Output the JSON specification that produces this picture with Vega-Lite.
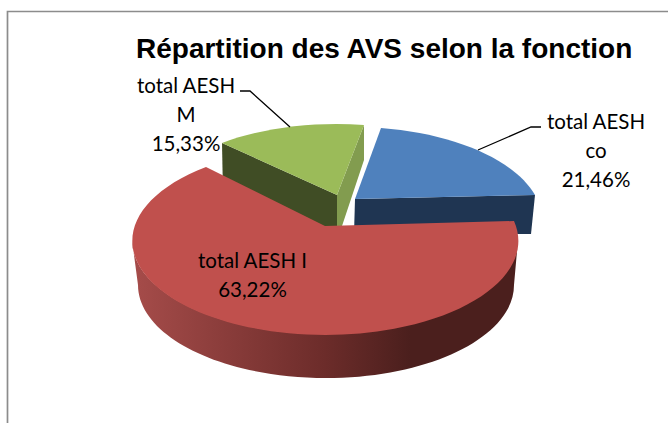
{
"$schema":"https://vega.github.io/schema/vega-lite/v6.json",
"width":668,"height":423,"padding":0,"autosize":{"type":"none"},
"background":"#ffffff",
"config":{"view":{"stroke":null}},
"title":{"text":"Répartition des AVS selon la fonction","font":"Liberation Sans","fontWeight":"bold","fontSize":28,"color":"#000000","anchor":"start","frame":"group","baseline":"alphabetic","offset":0,"dx":136,"dy":86},
"data":{"values":[
{"name":"total AESH co","share":21.46,"label":"total AESH\nco\n21,46%"},
{"name":"total AESH M","share":15.33,"label":"total AESH\nM\n15,33%"},
{"name":"total AESH I","share":63.22,"label":"total AESH I\n63,22%"}
]},
"layer":[
{"data":{"values":[{"part":"frame"}]},"mark":{"type":"point","filled":false,"opacity":1,"size":4,"shape":"M-326.5 212L-326.5 -200L334 -200","stroke":"#8c8c8c","strokeWidth":1.7},"encoding":{}},
{"transform":[{"filter":"datum.name==='total AESH co'"}],"mark":{"type":"point","filled":true,"opacity":1,"size":4,"shape":"M21 -12.5L201 -16.5L197 22.5L20 22.5Z","fill":"#1f3552"},"encoding":{}},
{"transform":[{"filter":"datum.name==='total AESH M'"}],"mark":{"type":"point","filled":true,"opacity":1,"size":4,"shape":"M-112 -68.5L3 -16.5L3 20.5L-111 -16.5Z","fill":"#404d25"},"encoding":{}},
{"transform":[{"filter":"datum.name==='total AESH M'"}],"mark":{"type":"point","filled":true,"opacity":1,"size":4,"shape":"M30 -86.5L3 -16.5L3 20.5L6 20.5L30 -51.5Z","fill":"#829c4f"},"encoding":{}},
{"transform":[{"filter":"datum.name==='total AESH I'"}],"mark":{"type":"point","filled":true,"opacity":1,"size":4,"shape":"M-202 28.5A193 94 0 0 0 184 28.5L180 73.5A188 93 0 0 1 -196 73.5Z","fill":{"gradient":"linear","x1":0,"y1":0,"x2":1,"y2":0,"stops":[{"offset":0,"color":"#a64c4a"},{"offset":0.5,"color":"#6c2c2a"},{"offset":0.72,"color":"#4b1f1d"},{"offset":1,"color":"#4b1f1d"}]}},"encoding":{}},
{"mark":{"type":"point","filled":true,"opacity":1,"size":4},"encoding":{
"shape":{"field":"name","type":"nominal","legend":null,"scale":{"domain":["total AESH co","total AESH M","total AESH I"],"range":["M21 -12.5L47 -83.5A190 94 0 0 1 201 -16.5Z","M3 -16.5L-112 -68.5A190 94 0 0 1 30 -86.5Z","M-9 14.5L-128 -44.5A193 94 0 1 0 180 9.5Z"]}},
"color":{"field":"name","type":"nominal","legend":null,"scale":{"domain":["total AESH co","total AESH M","total AESH I"],"range":["#4f81bd","#9bbb59","#c0504d"]}}
}},
{"transform":[{"filter":"datum.name==='total AESH M'"}],"mark":{"type":"point","filled":false,"opacity":1,"size":4,"shape":"M-94 -120.5L-84 -120.5L-44 -84.5","stroke":"#000000","strokeWidth":1.3},"encoding":{}},
{"transform":[{"filter":"datum.name==='total AESH co'"}],"mark":{"type":"point","filled":false,"opacity":1,"size":4,"shape":"M207 -84.5L197 -84.5L144 -61.5","stroke":"#000000","strokeWidth":1.3},"encoding":{}},
{"mark":{"type":"text","font":"Lato","fontSize":20.5,"color":"#000000","align":"center","baseline":"alphabetic","lineBreak":"\n","lineHeight":29},"encoding":{
"text":{"field":"label","type":"nominal"},
"x":{"field":"share","type":"quantitative","axis":null,"scale":{"domain":[15.33,21.46,63.22],"range":[186,596,252.5],"zero":false,"nice":false}},
"y":{"field":"share","type":"quantitative","axis":null,"scale":{"domain":[15.33,21.46,63.22],"range":[93,129,268],"zero":false,"nice":false}}
}}
]
}
